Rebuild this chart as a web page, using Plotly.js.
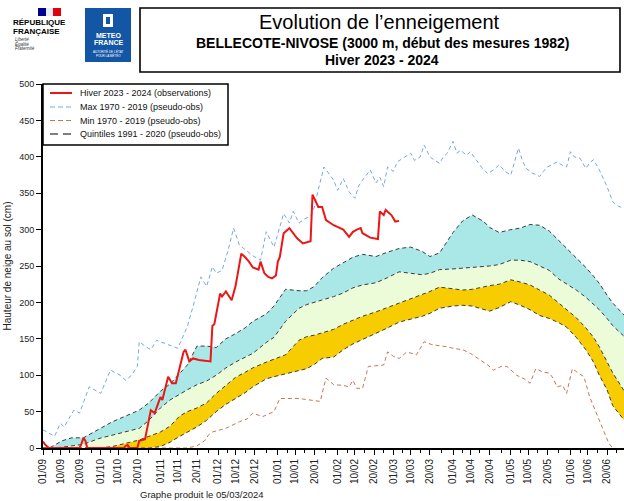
<!DOCTYPE html>
<html>
<head>
<meta charset="utf-8">
<script src="https://cdn.plot.ly/plotly-3.0.1.min.js"></script>
<style>
html,body{margin:0;padding:0;background:#fff;overflow:hidden;}
#chart{width:624px;height:501px;}
</style>
</head>
<body>
<div id="chart"></div>
<script>
// ---- x positions are days since 01/09/2023 ----
const tickDays = [0,9,19,30,39,49,61,70,80,91,100,110,122,131,141,153,162,172,182,191,201,213,222,232,243,252,262,274,283,293];
const tickLabels = ['01/09','10/09','20/09','01/10','10/10','20/10','01/11','10/11','20/11','01/12','10/12','20/12','01/01','10/01','20/01','01/02','10/02','20/02','01/03','10/03','20/03','01/04','10/04','20/04','01/05','10/05','20/05','01/06','10/06','20/06'];

// Observations winter 2023-2024
const obsDays = [0,1,3,19,20,21,22,23,42,43,44,45,49,50,53,56,58,61,62,65,67,69,73,74,76,78,81,85,87,88,89,92,93,95,98,100,103,105,107,109,112,113,115,117,119,121,122,123,125,128,130,132,135,137,139,140,141,142,143,145,146,147,151,156,159,161,163,165,166,170,174,175,177,178,181,183,185];
const obsVals = [9,5,0,0,6,14,10,0,0,3,4,0,0,10,12,52,48,70,66,98,89,89,132,135,119,123,121,120,119,168,170,212,208,215,203,222,267,262,256,248,245,256,240,235,233,237,256,262,295,302,295,288,281,282,284,348,343,338,331,331,320,313,306,300,290,297,300,302,295,289,287,325,320,327,320,311,312];

// Max 1970-2019
const maxDays = [0,2,6,9,11,16,19,24,27,30,35,40,43,46,49,50,53,56,59,62,66,70,73,75,78,80,82,85,88,90,93,96,99,102,105,109,113,116,120,123,125,128,130,133,136,139,141,143,146,149,151,153,156,159,162,164,166,170,173,175,177,179,182,184,187,191,193,196,198,201,203,206,208,210,213,215,217,220,222,225,228,231,234,237,240,243,245,247,249,251,254,258,260,262,265,267,270,272,274,276,279,282,284,286,289,291,293,296,299,302];
const maxVals = [25,22,16,34,29,52,48,84,80,75,107,100,93,100,112,146,140,135,148,145,140,137,155,167,195,215,235,222,249,240,244,270,302,279,272,264,258,297,276,305,322,309,325,309,315,318,331,355,386,375,368,354,370,352,343,360,368,382,364,372,359,386,380,393,398,405,395,400,416,400,396,391,400,405,421,405,409,402,407,396,385,377,382,389,380,375,395,412,395,384,378,373,380,386,390,393,388,386,407,400,398,384,392,396,382,370,359,338,332,329];

// Min 1970-2019
const minDays = [0,75,80,84,86,88,95,102,106,109,114,120,123,133,144,147,151,156,159,161,163,166,169,174,177,179,182,185,189,194,198,202,206,210,213,218,222,227,231,234,238,241,246,250,253,256,260,263,265,267,270,272,275,278,281,284,286,289,292,294,296];
const minVals = [0,0,3,10,18,22,27,36,40,48,43,50,68,68,64,96,87,86,84,93,82,82,112,113,114,132,126,123,132,128,146,142,141,139,137,135,130,121,114,107,112,112,100,95,89,109,104,103,96,84,86,75,109,103,98,70,57,38,20,6,0];

// Quintiles 1991-2020
const qDays = [0,4,10,15,21,29,36,43,50,55,61,66,71,75,80,85,90,95,100,105,109,116,120,126,133,137,141,145,151,156,161,166,173,179,185,191,197,201,206,213,218,223,229,232,237,243,248,253,258,263,268,272,277,282,286,289,293,296,302];
const q20 = [0,0,0,0,0,0,0,0,0,0,2,8,16,22,29,38,50,60,68,76,84,95,98,102,106,109,115,123,125,135,143,149,158,165,173,177,181,185,192,195,196,195,190,188,193,201,196,190,182,178,172,166,152,135,118,100,80,58,38];
const q40 = [0,0,0,0,0,0,2,6,11,16,22,30,44,50,55,62,75,86,97,104,110,118,122,128,148,153,155,158,163,170,176,181,187,193,199,204,210,215,221,219,217,218,222,223,225,231,228,224,217,210,199,190,179,165,152,139,118,103,78];
const q60 = [0,0,1,3,5,13,18,22,27,38,55,66,74,80,87,92,100,110,118,125,130,145,152,174,192,197,200,203,208,213,220,224,227,234,242,240,238,240,245,246,247,248,249,250,252,258,258,256,250,244,232,225,217,207,198,190,178,168,153];
const q80 = [0,1,10,14,14,26,36,44,52,62,78,88,102,114,140,140,138,150,157,165,174,184,195,218,216,216,222,234,247,254,262,266,263,269,274,276,270,263,268,296,312,320,311,303,296,300,302,307,306,298,285,274,262,248,236,226,210,199,182];

// Legend labels
const legendLabels = ['Hiver 2023 - 2024 (observations)', 'Max 1970 - 2019 (pseudo-obs)', 'Min 1970 - 2019 (pseudo-obs)', 'Quintiles 1991 - 2020 (pseudo-obs)'];

// ---- styles ----
const obsStyle = {color: 'rgb(236,22,22)', width: 2};
const maxStyle = {color: 'rgb(122,166,230)', width: 1, dash: '4px,3px'};
const minStyle = {color: 'rgb(200,118,88)', width: 1, dash: '4px,3px'};
const qStyle = {color: '#3a3a3a', width: 1, dash: '4px,3px'};
const legendKeyStyles = [
  obsStyle,
  {color: 'rgb(122,166,230)', width: 1, dash: '5px,3px'},
  {color: 'rgb(200,118,88)', width: 1, dash: '5px,3px'},
  {color: '#555', width: 1.5, dash: '8px,5px'}
];

// ---- layout helpers (paper coords from pixel positions) ----
const L = 43, R = 624, T = 84, B = 448;
const px = x => (x - L) / (R - L);
const py = y => (B - y) / (B - T);

const minorTicks = [];
for (let i = 0; i < tickDays.length; i++) {
  const next = i + 1 < tickDays.length ? tickDays[i + 1] : tickDays[i] + 10;
  minorTicks.push(Math.round((tickDays[i] + next) / 2));
}

const traces = [
  {x: qDays, y: q20, mode: 'lines', line: {width: 0}, hoverinfo: 'skip'},
  {x: qDays, y: q40, mode: 'lines', line: {width: 0}, fill: 'tonexty', fillcolor: 'rgb(247,204,0)', hoverinfo: 'skip'},
  {x: qDays, y: q60, mode: 'lines', line: {width: 0}, fill: 'tonexty', fillcolor: 'rgb(236,252,216)', hoverinfo: 'skip'},
  {x: qDays, y: q80, mode: 'lines', line: {width: 0}, fill: 'tonexty', fillcolor: 'rgb(170,232,232)', hoverinfo: 'skip'},
  {x: qDays, y: q20, mode: 'lines', line: qStyle, name: legendLabels[3]},
  {x: qDays, y: q40, mode: 'lines', line: qStyle, name: legendLabels[3]},
  {x: qDays, y: q60, mode: 'lines', line: qStyle, name: legendLabels[3]},
  {x: qDays, y: q80, mode: 'lines', line: qStyle, name: legendLabels[3]},
  {x: minDays, y: minVals, mode: 'lines', name: legendLabels[2], line: minStyle},
  {x: maxDays, y: maxVals, mode: 'lines', name: legendLabels[1], line: maxStyle},
  {x: obsDays, y: obsVals, mode: 'lines', name: legendLabels[0], line: obsStyle}
];

const font = 'Liberation Sans, Arial, Helvetica, sans-serif';
const shapes = [
  // title box
  {type: 'rect', xref: 'paper', yref: 'paper', x0: px(140), x1: px(620), y0: py(72), y1: py(8), line: {color: '#000', width: 1.6}, fillcolor: 'rgba(0,0,0,0)'},
  // flag
  {type: 'rect', xref: 'paper', yref: 'paper', x0: px(38), x1: px(46), y0: py(16), y1: py(8), line: {width: 0}, fillcolor: 'rgb(0,0,145)'},
  {type: 'rect', xref: 'paper', yref: 'paper', x0: px(46), x1: px(53), y0: py(16), y1: py(8), line: {width: 0}, fillcolor: 'rgb(235,235,240)'},
  {type: 'rect', xref: 'paper', yref: 'paper', x0: px(53), x1: px(61), y0: py(16), y1: py(8), line: {width: 0}, fillcolor: 'rgb(225,0,15)'},
  // Meteo-France block
  {type: 'rect', xref: 'paper', yref: 'paper', x0: px(85), x1: px(131), y0: py(62), y1: py(8), line: {width: 0}, fillcolor: 'rgb(20,86,166)'},
  {type: 'rect', xref: 'paper', yref: 'paper', x0: px(103), x1: px(113), y0: py(27), y1: py(14), line: {width: 0}, fillcolor: '#ffffff'},
  {type: 'rect', xref: 'paper', yref: 'paper', x0: px(106), x1: px(110), y0: py(24), y1: py(17), line: {width: 0}, fillcolor: 'rgb(20,86,166)'},
  // legend box
  {type: 'rect', xref: 'paper', yref: 'paper', x0: px(43), x1: px(228), y0: py(145), y1: py(84), line: {color: '#000', width: 1.5}, fillcolor: '#fff'}
];

const legendRowsY = [93, 107, 120.5, 134];
legendLabels.forEach((lab, i) => {
  shapes.push({type: 'line', xref: 'paper', yref: 'paper', x0: px(50), x1: px(72), y0: py(legendRowsY[i]), y1: py(legendRowsY[i]), line: legendKeyStyles[i]});
});

const ann = (x, y, text, size, opts = {}) => Object.assign({
  xref: 'paper', yref: 'paper', x: px(x), y: py(y), text: text, showarrow: false,
  xanchor: 'center', yanchor: 'middle', font: {family: font, size: size, color: '#000'}
}, opts);

const annotations = [
  ann(380, 22, 'Evolution de l\u2019enneigement', 20),
  ann(382, 43, '<b>BELLECOTE-NIVOSE (3000 m, d\u00e9but des mesures 1982)</b>', 14),
  ann(382, 60, '<b>Hiver 2023 - 2024</b>', 14),
  ann(11, 23, '<b>R\u00c9PUBLIQUE</b>', 8, {xanchor: 'left'}),
  ann(11, 31, '<b>FRAN\u00c7AISE</b>', 8, {xanchor: 'left'}),
  ann(13, 39, '<i>Libert\u00e9</i>', 4.5, {xanchor: 'left', font: {family: font, size: 4.5, color: '#333'}}),
  ann(13, 44, '<i>\u00c9galit\u00e9</i>', 4.5, {xanchor: 'left', font: {family: font, size: 4.5, color: '#333'}}),
  ann(13, 49, '<i>Fraternit\u00e9</i>', 4.5, {xanchor: 'left', font: {family: font, size: 4.5, color: '#333'}}),
  ann(108, 35, '<b>METEO</b>', 7, {font: {family: font, size: 7, color: '#fff'}}),
  ann(108, 43, '<b>FRANCE</b>', 7, {font: {family: font, size: 7, color: '#fff'}}),
  ann(108, 51, 'AUTORIT\u00c9 DE L\u2019\u00c9TAT', 3, {font: {family: font, size: 3, color: '#fff'}}),
  ann(108, 55, 'POUR LA M\u00c9T\u00c9O', 3, {font: {family: font, size: 3, color: '#fff'}}),
  ann(202, 494, 'Graphe produit le 05/03/2024', 9.5, {font: {family: font, size: 9.5, color: '#222'}})
];
legendLabels.forEach((lab, i) => {
  annotations.push(ann(78, legendRowsY[i], lab, 9, {xanchor: 'left', font: {family: font, size: 9, color: '#111'}}));
});

const layout = {
  width: 624, height: 501,
  margin: {l: L, r: 624 - R, t: T, b: 501 - B, pad: 0},
  paper_bgcolor: '#fff', plot_bgcolor: '#fff',
  font: {family: font, size: 10, color: '#222'},
  showlegend: false,
  xaxis: {
    range: [0, (R - L) / 1.925], tickmode: 'array', tickvals: tickDays, ticktext: tickLabels,
    tickangle: -90, ticks: 'outside', ticklen: 5, tickcolor: '#000', tickwidth: 1,
    tickfont: {family: font, size: 10, color: '#222'},
    minor: {tickvals: minorTicks, ticks: 'outside', ticklen: 3, tickcolor: '#000', showgrid: false},
    showline: true, linecolor: '#000', linewidth: 2, showgrid: false, zeroline: false, automargin: false, fixedrange: true
  },
  yaxis: {
    range: [0, 500], tickmode: 'array', tickvals: [0,50,100,150,200,250,300,350,400,450,500],
    ticks: 'outside', ticklen: 5, tickcolor: '#000', tickfont: {family: font, size: 9, color: '#222'},
    showline: true, linecolor: '#000', linewidth: 2, showgrid: false, zeroline: false, automargin: false,
    title: {text: 'Hauteur de neige au sol (cm)', font: {family: font, size: 10, color: '#222'}, standoff: 6},
    fixedrange: true
  },
  shapes: shapes,
  annotations: annotations
};

Plotly.newPlot('chart', traces, layout, {displayModeBar: false, staticPlot: true});
</script>
</body>
</html>
